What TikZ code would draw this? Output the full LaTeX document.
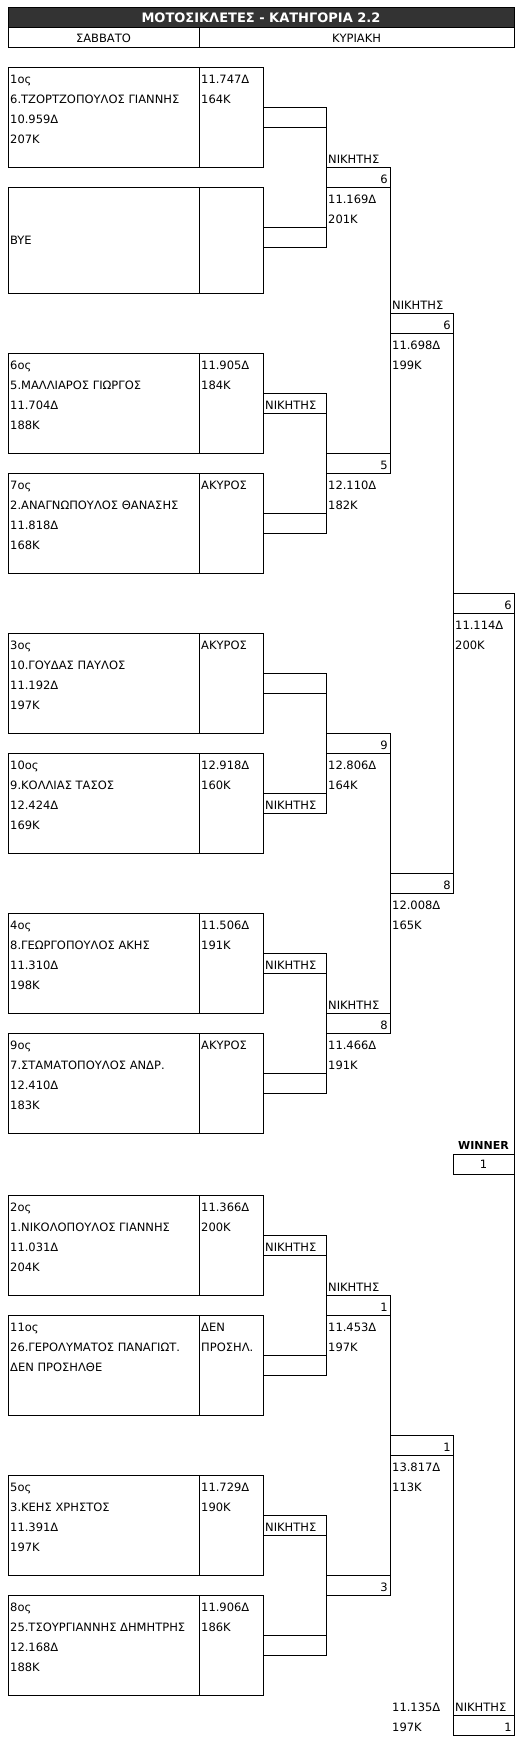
\documentclass[tikz,border=0pt]{standalone}
\usepackage{fontspec}
\setmainfont{DejaVu Sans}
\usepackage{tikz}
\usepackage{xcolor}
\usetikzlibrary{
    calc,
    positioning
}
\definecolor{titlegray}{HTML}{333333}

\tikzset{
    txt/.style={font=\fontsize{11.5}{13}\selectfont, inner sep=0pt, anchor=base west},
    rtxt/.style={txt, anchor=base east},
    cell/.style={draw, line width=1pt, inner sep=0pt, outer sep=0pt, anchor=north west,
        minimum height=20pt, font=\fontsize{11.5}{13}\selectfont},
    wire/.style={line width=1pt}
}

% one rider: name column and time column, four + two lines of text
\newcommand{\riderbox}[9]{%
    \node[cell, minimum width=191pt, minimum height=#3pt] (#1n) at (8,-#2) {};
    \node[cell, minimum width=64pt, minimum height=#3pt] (#1t) at (199,-#2) {};
    \node[txt] (#1a) at (10,{-#2-16}) {#4};
    \node[txt] (#1b) at (10,{-#2-36}) {#5};
    \node[txt] (#1c) at (10,{-#2-56}) {#6};
    \node[txt] (#1d) at (10,{-#2-76}) {#7};
    \node[txt] (#1e) at (201,{-#2-16}) {#8};
    \node[txt] (#1f) at (201,{-#2-36}) {#9};
}

\begin{document}
\begin{tikzpicture}[x=1pt, y=1pt]
\useasboundingbox (0,0) rectangle (526,-1744);

% header
\node[cell, fill=titlegray, text=white, minimum width=506pt,
    font=\bfseries\fontsize{13}{15}\selectfont] (title) at (8,-8) {ΜΟΤΟΣΙΚΛΕΤΕΣ - ΚΑΤΗΓΟΡΙΑ 2.2};
\node[cell, minimum width=191pt] (sat) at (8,-28) {ΣΑΒΒΑΤΟ};
\node[cell, minimum width=315pt] (sun) at (199,-28) {ΚΥΡΙΑΚΗ};

% saturday riders
\riderbox{r1}{68}{100}{1ος}{6.ΤΖΟΡΤΖΟΠΟΥΛΟΣ ΓΙΑΝΝΗΣ}{10.959Δ}{207K}{11.747Δ}{164K}
\riderbox{r2}{188}{105}{}{}{BYE}{}{}{}
\riderbox{r3}{353}{100}{6ος}{5.ΜΑΛΛΙΑΡΟΣ ΓΙΩΡΓΟΣ}{11.704Δ}{188K}{11.905Δ}{184K}
\riderbox{r4}{473}{100}{7ος}{2.ΑΝΑΓΝΩΠΟΥΛΟΣ ΘΑΝΑΣΗΣ}{11.818Δ}{168K}{ΑΚΥΡΟΣ}{}
\riderbox{r5}{633}{100}{3ος}{10.ΓΟΥΔΑΣ ΠΑΥΛΟΣ}{11.192Δ}{197K}{ΑΚΥΡΟΣ}{}
\riderbox{r6}{753}{100}{10ος}{9.ΚΟΛΛΙΑΣ ΤΑΣΟΣ}{12.424Δ}{169K}{12.918Δ}{160K}
\riderbox{r7}{913}{100}{4ος}{8.ΓΕΩΡΓΟΠΟΥΛΟΣ ΑΚΗΣ}{11.310Δ}{198K}{11.506Δ}{191K}
\riderbox{r8}{1033}{100}{9ος}{7.ΣΤΑΜΑΤΟΠΟΥΛΟΣ ΑΝΔΡ.}{12.410Δ}{183K}{ΑΚΥΡΟΣ}{}
\riderbox{r9}{1195}{100}{2ος}{1.ΝΙΚΟΛΟΠΟΥΛΟΣ ΓΙΑΝΝΗΣ}{11.031Δ}{204K}{11.366Δ}{200K}
\riderbox{r10}{1315}{100}{11ος}{26.ΓΕΡΟΛΥΜΑΤΟΣ ΠΑΝΑΓΙΩΤ.}{ΔΕΝ ΠΡΟΣΗΛΘΕ}{}{ΔΕΝ}{ΠΡΟΣΗΛ.}
\riderbox{r11}{1475}{100}{5ος}{3.ΚΕΗΣ ΧΡΗΣΤΟΣ}{11.391Δ}{197K}{11.729Δ}{190K}
\riderbox{r12}{1595}{100}{8ος}{25.ΤΣΟΥΡΓΙΑΝΝΗΣ ΔΗΜΗΤΡΗΣ}{12.168Δ}{188K}{11.906Δ}{186K}

% first round
\foreach \nm/\y in {c1/108, c2/228, c3/393, c4/513, c5/673, c6/793, c7/953, c8/1073,
    c9/1235, c10/1355, c11/1515, c12/1635}
    \node[cell, minimum width=63pt] (\nm) at (263,-\y) {};
\foreach \nm in {c3, c6, c7, c9, c11}
    \node[txt] (\nm-w) at ([shift={(2,4)}]\nm.south west) {ΝΙΚΗΤΗΣ};
\foreach \a/\b in {c1/c2, c3/c4, c5/c6, c7/c8, c9/c10, c11/c12}
    \draw[wire] (\a.north east) -- (\b.south east);

% second round
\foreach \nm/\y/\v in {d1/168/6, d2/453/5, d3/733/9, d4/1013/8, d5/1295/1, d6/1575/3} {
    \node[cell, minimum width=64pt] (\nm) at (326,-\y) {};
    \node[rtxt] (\nm-v) at ([shift={(-2,4)}]\nm.south east) {\v};
}
\foreach \nm in {d1, d4, d5}
    \node[txt] (\nm-w) at ([shift={(2,4)}]\nm.north west) {ΝΙΚΗΤΗΣ};
\foreach \nm/\ta/\tb in {d1/11.169Δ/201K, d2/12.110Δ/182K, d3/12.806Δ/164K,
    d4/11.466Δ/191K, d5/11.453Δ/197K} {
    \node[txt] (\nm-ta) at ([shift={(2,-16)}]\nm.south west) {\ta};
    \node[txt] (\nm-tb) at ([shift={(2,-36)}]\nm.south west) {\tb};
}
\foreach \a/\b in {d1/d2, d3/d4, d5/d6}
    \draw[wire] (\a.north east) -- (\b.south east);

% semi finals
\foreach \nm/\y/\v in {e1/313/6, e2/873/8, e3/1435/1} {
    \node[cell, minimum width=63pt] (\nm) at (390,-\y) {};
    \node[rtxt] (\nm-v) at ([shift={(-2,4)}]\nm.south east) {\v};
}
\node[txt] (e1-w) at ([shift={(2,4)}]e1.north west) {ΝΙΚΗΤΗΣ};
\foreach \nm/\ta/\tb in {e1/11.698Δ/199K, e2/12.008Δ/165K, e3/13.817Δ/113K} {
    \node[txt] (\nm-ta) at ([shift={(2,-16)}]\nm.south west) {\ta};
    \node[txt] (\nm-tb) at ([shift={(2,-36)}]\nm.south west) {\tb};
}
\draw[wire] (e1.north east) -- (e2.south east);

% final
\node[cell, minimum width=61pt] (f1) at (453,-593) {};
\node[rtxt] (f1-v) at ([shift={(-2,4)}]f1.south east) {6};
\node[txt] (f1-ta) at ([shift={(2,-16)}]f1.south west) {11.114Δ};
\node[txt] (f1-tb) at ([shift={(2,-36)}]f1.south west) {200K};
\node[cell, minimum width=61pt] (f3) at (453,-1715) {};
\node[rtxt] (f3-v) at ([shift={(-2,4)}]f3.south east) {1};
\node[txt] (f3-w) at ([shift={(2,4)}]f3.north west) {ΝΙΚΗΤΗΣ};
\node[txt] (f3-ta) at (392,-1711) {11.135Δ};
\node[txt] (f3-tb) at (392,-1731) {197K};
\draw[wire] (e3.north east) -- (f3.south west);
\draw[wire] (f1.north east) -- (f3.south east);

% winner
\node[cell, minimum width=61pt] (win) at (453,-1154) {1};
\node[txt, anchor=base, font=\bfseries\fontsize{11}{13}\selectfont] (win-w)
    at ([yshift=5]win.north) {WINNER};
\end{tikzpicture}
\end{document}
